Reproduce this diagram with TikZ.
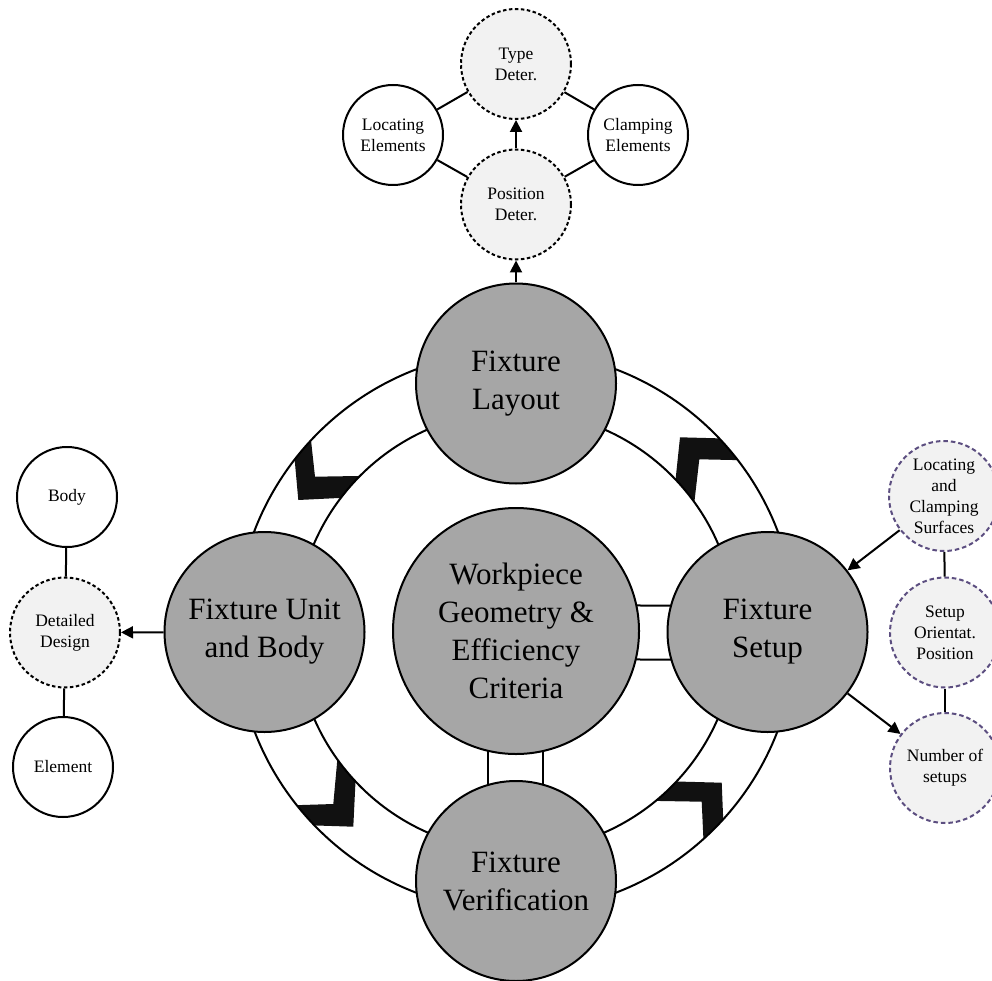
\documentclass[tikz,border=0pt]{standalone}
\usepackage{fontspec}
\setmainfont{Liberation Serif}
\usetikzlibrary{arrows.meta,backgrounds}
\definecolor{bigfill}{RGB}{166,166,166}
\definecolor{lightfill}{RGB}{242,242,242}
\definecolor{dashpurple}{RGB}{92,78,128}
\definecolor{chev}{RGB}{17,17,17}
\begin{document}
\begin{tikzpicture}[x=1pt,y=-1pt,
  bigc/.style={circle, draw, line width=2pt, fill=bigfill, minimum size=200pt, inner sep=0pt, align=center, font=\fontsize{31}{38}\selectfont},
  smallbase/.style={circle, draw, line width=2pt, inner sep=0pt, align=center, font=\fontsize{17.5}{21}\selectfont},
  plainc/.style={smallbase, fill=white, minimum size=100pt},
  dashc/.style={smallbase, fill=lightfill, minimum size=110pt, dash pattern=on 3.5pt off 2.5pt},
  purpc/.style={smallbase, draw=dashpurple, fill=lightfill, minimum size=110pt, dash pattern=on 4.5pt off 3pt},
  link/.style={line width=2pt},
  arr/.style={line width=2pt, -{Triangle[length=12pt,width=12pt]}},
  ringline/.style={line width=2pt}
]
\useasboundingbox (0,0) rectangle (992,981);

% main nodes
\node[bigc, minimum size=246pt] (wp) at (516,631) {Workpiece\\Geometry \&\\Efficiency\\Criteria};
\node[bigc] (layout) at (516,383.5) {Fixture\\Layout};
\node[bigc] (unit) at (264.5,632) {Fixture Unit\\and Body};
\node[bigc] (setup) at (767.5,632) {Fixture\\Setup};
\node[bigc] (verif) at (516,881) {Fixture\\Verification};

% top cluster
\node[dashc] (type) at (516,64) {Type\\Deter.};
\node[dashc] (pos) at (516,204.5) {Position\\Deter.};
\node[plainc] (loc) at (393,135) {Locating\\Elements};
\node[plainc] (clamp) at (638,135) {Clamping\\Elements};

% left cluster
\node[plainc] (body) at (67,497) {Body};
\node[dashc] (detail) at (65,632.5) {Detailed\\Design};
\node[plainc] (element) at (63,767) {Element};

% right cluster
\node[purpc] (surf) at (944,496) {Locating\\and\\Clamping\\Surfaces};
\node[purpc] (orient) at (945,632.5) {Setup\\Orientat.\\Position};
\node[purpc] (nset) at (945,768) {Number of\\setups};

\begin{scope}[on background layer]
  \begin{scope}
    \clip (516,631) circle[radius=280pt];
    % upper left chevron
    \fill[chev] (298.3,500) -- (289.3,400) -- (306.6,400) -- (315,476.7) -- (420,475) -- (420,494) -- cycle;
    % upper right chevron
    \fill[chev] (680,437.3) -- (780,440) -- (780,461) -- (699.3,459.3) -- (690,540) -- (671.3,520) -- cycle;
    % bottom left chevron
    \fill[chev] (353.3,826.7) -- (357.5,740) -- (339.1,740) -- (333.3,804) -- (240,807) -- (240,823) -- cycle;
    % bottom right chevron
    \fill[chev] (721.7,782.7) -- (726.5,900) -- (706.2,900) -- (701.7,801.7) -- (620,800.3) -- (620,780) -- cycle;
  \end{scope}
  \fill[white] (516,631) circle[radius=220pt];
  \draw[ringline] (516,631) circle[radius=280pt];
  \draw[ringline] (516,631) circle[radius=220pt];
  % double connectors
  \draw[link] ([yshift=26pt]wp.center) -- ([yshift=26pt]setup.center);
  \draw[link] ([yshift=-28pt]wp.center) -- ([yshift=-28pt]setup.center);
  \draw[link] ([xshift=-28pt]wp.center) -- ([xshift=-28pt]verif.center);
  \draw[link] ([xshift=27pt]wp.center) -- ([xshift=27pt]verif.center);
\end{scope}

% connectors
\draw[link] (loc) -- (type);
\draw[link] (loc) -- (pos);
\draw[link] (clamp) -- (type);
\draw[link] (clamp) -- (pos);
\draw[arr] (pos) -- (type);
\draw[arr] (layout) -- (pos);

\draw[link] (body) -- (detail);
\draw[link] (detail) -- (element);
\draw[arr] (unit) -- (detail);

\draw[link] (surf) -- (orient);
\draw[link] (orient) -- (nset);
\draw[arr] (surf) -- (setup);
\draw[arr] (setup) -- (nset);
\end{tikzpicture}
\end{document}
